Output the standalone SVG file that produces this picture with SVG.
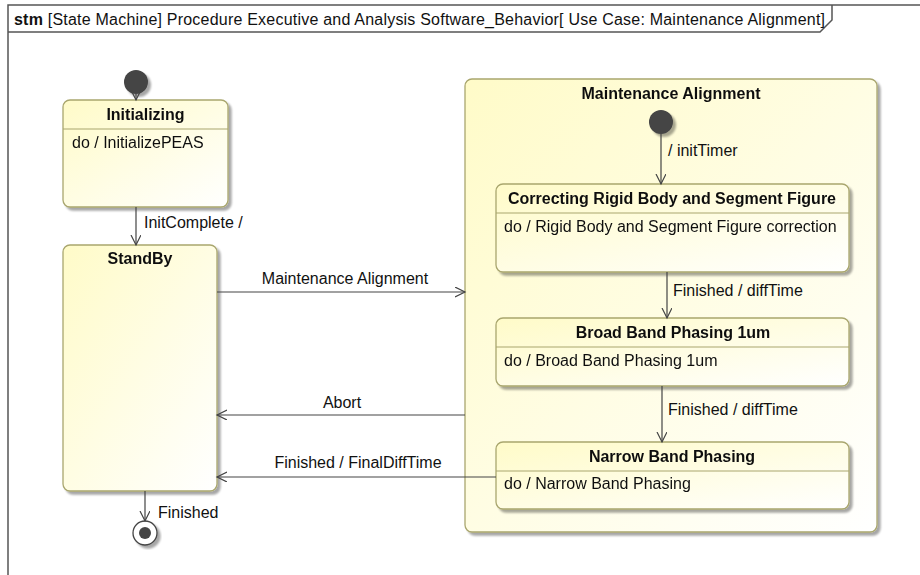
<svg xmlns="http://www.w3.org/2000/svg" width="920" height="575" viewBox="0 0 920 575">
<defs>
<linearGradient id="g" x1="0" y1="0" x2="1" y2="1">
<stop offset="0" stop-color="#FFFBC8"/>
<stop offset="1" stop-color="#FFFFFF"/>
</linearGradient>
<marker id="ah" markerWidth="12" markerHeight="12" refX="10" refY="5" orient="auto" markerUnits="userSpaceOnUse">
<path d="M0,0 L10,5 L0,10" fill="none" stroke="#444" stroke-width="1.2"/>
</marker>
<filter id="sh" x="-10%" y="-10%" width="130%" height="130%">
<feOffset in="SourceAlpha" dx="3" dy="3" result="o"/>
<feGaussianBlur in="o" stdDeviation="1.2" result="b"/>
<feComponentTransfer in="b" result="c"><feFuncA type="linear" slope="0.35"/></feComponentTransfer>
<feMerge><feMergeNode in="c"/><feMergeNode in="SourceGraphic"/></feMerge>
</filter>
</defs>
<style>
text{font-family:"Liberation Sans",Arial,sans-serif;font-size:16px;fill:#111}
.b{font-weight:bold}
.st{fill:url(#g);stroke:#A9A66E;stroke-width:1.3}
.sep{stroke:#A9A66E;stroke-width:1.2}
.cn{fill:none;stroke:#444;stroke-width:1.2;marker-end:url(#ah)}
.fr{fill:none;stroke:#555;stroke-width:1.5}
.m{text-anchor:middle}
</style>
<rect width="920" height="575" fill="#fff"/>
<g id="frame">
<path class="fr" d="M8,580 L8,5 L930,5"/>
<path class="fr" d="M8,32 L820,32 L832,20 L832,5"/>
<text x="14" y="25" textLength="811" lengthAdjust="spacing"><tspan class="b">stm</tspan> [State Machine] Procedure Executive and Analysis Software_Behavior[ Use Case: Maintenance Alignment]</text>
</g>
<g id="init1"><circle cx="136" cy="82" r="12" fill="#444" filter="url(#sh)"/></g>
<g id="initializing" filter="url(#sh)">
<rect class="st" x="63" y="100" width="165" height="107" rx="7"/>
<line class="sep" x1="63" y1="129" x2="228" y2="129"/>
<text class="b m" x="145.5" y="120">Initializing</text>
<text x="72" y="148">do / InitializePEAS</text>
</g>
<g id="standby" filter="url(#sh)">
<rect class="st" x="63" y="245" width="154" height="246" rx="7"/>
<text class="b m" x="140" y="264">StandBy</text>
</g>
<g id="final" filter="url(#sh)">
<circle cx="145" cy="533" r="12" fill="#fff" stroke="#444" stroke-width="1.3"/>
<circle cx="145" cy="533" r="6" fill="#444"/>
</g>
<g id="maintenance" filter="url(#sh)">
<rect class="st" x="465" y="79" width="412" height="453" rx="7"/>
<text class="b m" x="671" y="99">Maintenance Alignment</text>
</g>
<g id="init2"><circle cx="661" cy="122" r="12" fill="#444" filter="url(#sh)"/></g>
<g id="correcting" filter="url(#sh)">
<rect class="st" x="496" y="184" width="353" height="88" rx="7"/>
<line class="sep" x1="496" y1="213" x2="849" y2="213"/>
<text class="b m" x="672" y="204">Correcting Rigid Body and Segment Figure</text>
<text x="504" y="232">do / Rigid Body and Segment Figure correction</text>
</g>
<g id="broadband" filter="url(#sh)">
<rect class="st" x="496" y="318" width="353" height="68" rx="7"/>
<line class="sep" x1="496" y1="347" x2="849" y2="347"/>
<text class="b m" x="673" y="338">Broad Band Phasing 1um</text>
<text x="504" y="366">do / Broad Band Phasing 1um</text>
</g>
<g id="narrowband" filter="url(#sh)">
<rect class="st" x="496" y="442" width="353" height="67" rx="7"/>
<line class="sep" x1="496" y1="471" x2="849" y2="471"/>
<text class="b m" x="672" y="462">Narrow Band Phasing</text>
<text x="504" y="489">do / Narrow Band Phasing</text>
</g>
<g id="connectors">
<line class="cn" x1="136" y1="94" x2="136" y2="100"/>
<line class="cn" x1="136" y1="207" x2="136" y2="245"/>
<text x="144" y="228">InitComplete /</text>
<line class="cn" x1="217" y1="292" x2="465" y2="292"/>
<text class="m" x="345" y="284">Maintenance Alignment</text>
<line class="cn" x1="465" y1="415" x2="217" y2="415"/>
<text class="m" x="342" y="408">Abort</text>
<line class="cn" x1="496" y1="477" x2="217" y2="477"/>
<text class="m" x="358" y="468">Finished / FinalDiffTime</text>
<line class="cn" x1="145" y1="491" x2="145" y2="521"/>
<text x="158" y="518">Finished</text>
<line class="cn" x1="661" y1="134" x2="661" y2="184"/>
<text x="668" y="156">/ initTimer</text>
<line class="cn" x1="667" y1="272" x2="667" y2="318"/>
<text x="673" y="296">Finished / diffTime</text>
<line class="cn" x1="662" y1="386" x2="662" y2="442"/>
<text x="668" y="415">Finished / diffTime</text>
</g>
</svg>
